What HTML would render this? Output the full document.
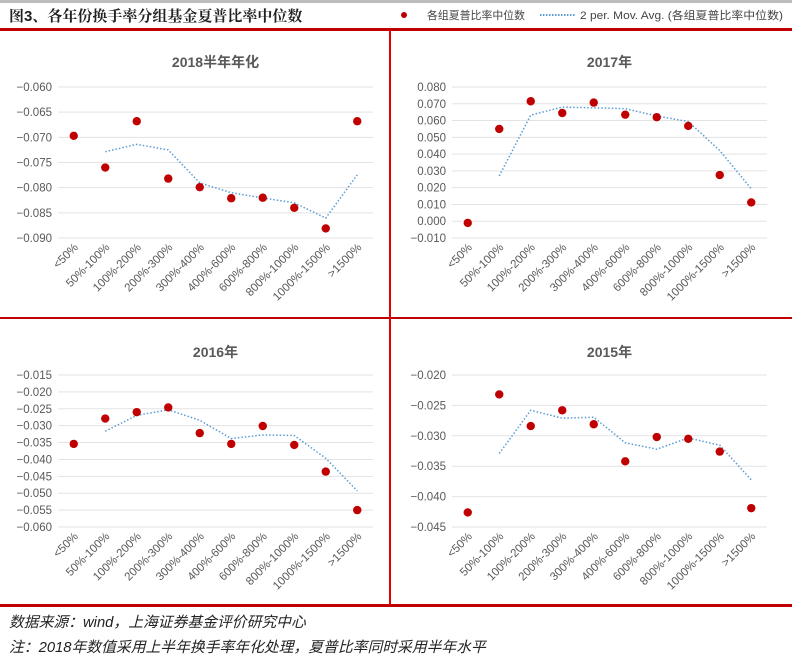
<!DOCTYPE html>
<html><head><meta charset="utf-8">
<style>
body{margin:0;width:802px;height:662px;background:#fff;position:relative;overflow:hidden;font-family:"Liberation Sans","Noto Sans CJK SC",sans-serif}
.abs{position:absolute}
</style></head><body>
<div class="abs" style="left:0;top:0;width:792px;height:3px;background:#bdbdbd"></div>
<div class="abs" style="left:9px;top:5px;font-size:15px;font-weight:bold;color:#222;font-family:'Liberation Sans','Noto Serif CJK SC',serif">图3、各年份换手率分组基金夏普比率中位数</div>
<svg class="abs" style="left:390px;top:0" width="412" height="28">
<circle cx="14" cy="15" r="3" fill="#c00000"/>
<text x="37" y="19" font-size="11" fill="#444" textLength="98" lengthAdjust="spacingAndGlyphs">各组夏普比率中位数</text>
<line x1="150" y1="15" x2="186" y2="15" stroke="#5b9bd5" stroke-width="2" stroke-dasharray="1.5 1.5"/>
<text x="190" y="19" font-size="11" fill="#444" textLength="203" lengthAdjust="spacingAndGlyphs">2 per. Mov. Avg. (各组夏普比率中位数)</text>
</svg>
<div class="abs" style="left:0;top:28px;width:792px;height:3px;background:#c00000"></div>
<div class="abs" style="left:0;top:317px;width:792px;height:2px;background:#c00000"></div>
<div class="abs" style="left:0;top:604px;width:792px;height:3px;background:#c00000"></div>
<div class="abs" style="left:389px;top:30px;width:2px;height:575px;background:#e00000"></div>
<div class="abs" style="left:9px;top:611px;font-size:14.8px;font-style:italic;color:#222">数据来源：wind，上海证券基金评价研究中心</div>
<div class="abs" style="left:9px;top:636px;font-size:14.8px;font-style:italic;color:#222">注：2018年数值采用上半年换手率年化处理，夏普比率同时采用半年水平</div>
<svg id="svg" class="abs" style="left:0;top:0" width="802" height="662"></svg>
<script>
const categories=["<50%","50%-100%","100%-200%","200%-300%","300%-400%","400%-600%","600%-800%","800%-1000%","1000%-1500%",">1500%"];
const values2018=[-0.0697,-0.0760,-0.0668,-0.0782,-0.0799,-0.0821,-0.0820,-0.0840,-0.0881,-0.0668];
const values2017=[-0.001,0.055,0.0715,0.0645,0.0707,0.0635,0.062,0.0568,0.0275,0.0112];
const values2016=[-0.0354,-0.0279,-0.0260,-0.0246,-0.0322,-0.0354,-0.0301,-0.0357,-0.0436,-0.0550];
const values2015=[-0.0426,-0.0232,-0.0284,-0.0258,-0.0281,-0.0342,-0.0302,-0.0305,-0.0326,-0.0419];
const ticks2018=[-0.060,-0.065,-0.070,-0.075,-0.080,-0.085,-0.090];
const ticks2017=[0.080,0.070,0.060,0.050,0.040,0.030,0.020,0.010,0.000,-0.010];
const ticks2016=[-0.015,-0.020,-0.025,-0.030,-0.035,-0.040,-0.045,-0.050,-0.055,-0.060];
const ticks2015=[-0.020,-0.025,-0.030,-0.035,-0.040,-0.045];
const NS="http://www.w3.org/2000/svg";
const svg=document.getElementById('svg');
function mk(t,a,p){const e=document.createElementNS(NS,t);for(const k in a)e.setAttribute(k,a[k]);(p||svg).appendChild(e);return e;}
function fmt(v){return (v<0?"\u2212":"")+Math.abs(v).toFixed(3);}
function chart(name,title,vals,ticks,x0,x1,ytop,ybot,titleY){
  const g=mk('g',{});
  
  
  const tmax=Math.max(...ticks),tmin=Math.min(...ticks);
  const y=v=>ytop+(tmax-v)/(tmax-tmin)*(ybot-ytop);
  const bw=(x1-x0)/categories.length;
  const x=i=>x0+bw*(i+0.5);
  const t=mk('text',{x:(x0+x1)/2,y:titleY,'text-anchor':'middle','font-size':14,'font-weight':'bold',fill:'#595959'},g);
  t.textContent=title;
  
  
  ticks.forEach(v=>{
    const l=mk('line',{x1:x0,x2:x1,y1:y(v),y2:y(v),stroke:'#e3e3e3','stroke-width':1},g);
    
    
    const tl=mk('text',{x:x0-6,y:y(v)+4,'text-anchor':'end','font-size':11.5,fill:'#595959'},g);
    tl.textContent=fmt(v);
    
    
  });
  categories.forEach((c,i)=>{
    const tx=x(i)+5,ty=ybot+10;
    const cl=mk('text',{x:tx,y:ty,'text-anchor':'end','font-size':11.5,fill:'#595959',transform:`rotate(-45 ${tx} ${ty})`},g);
    cl.textContent=c;
    
    
  });
  let pts=[];
  for(let i=1;i<vals.length;i++)pts.push(x(i)+','+y((vals[i]+vals[i-1])/2));
  const pl=mk('polyline',{points:pts.join(' '),fill:'none',stroke:'#5b9bd5','stroke-width':1.5,'stroke-dasharray':'1.5 2'},g);
  
  
  vals.forEach((v,i)=>{
    const c=mk('circle',{cx:x(i),cy:y(v),r:4.2,fill:'#c00000'},g);
    
    
  });
}
chart('chart-2018','2018半年年化',values2018,ticks2018,58,373,87,238,67);
chart('chart-2017','2017年',values2017,ticks2017,452,767,87,238,67);
chart('chart-2016','2016年',values2016,ticks2016,58,373,375,527,357);
chart('chart-2015','2015年',values2015,ticks2015,452,767,375,527,357);
</script>
</body></html>
